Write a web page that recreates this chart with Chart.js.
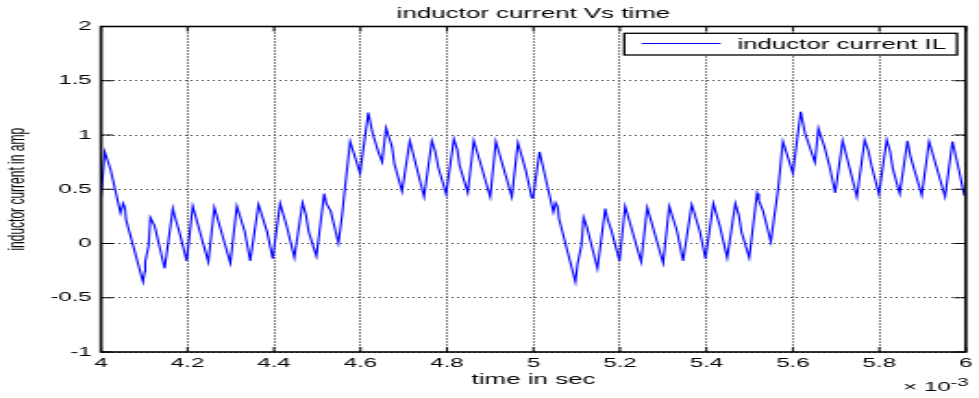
<!DOCTYPE html>
<html>
<head>
<meta charset="utf-8">
<title>inductor current Vs time</title>
<script src="https://cdn.jsdelivr.net/npm/chart.js@4"></script>
<style>
  html, body { margin: 0; padding: 0; background: #fff; overflow: hidden; }
  /* plot is drawn narrow and widened, like the exported figure */
  #wrap { width: 529px; height: 398px; transform: scaleX(1.85066); transform-origin: 0 0; }
</style>
</head>
<body>
<div id="wrap"><canvas id="ilChart" width="529" height="398"></canvas></div>
<script>
// time axis in ms (axis shows x 10^-3 s)
const timeMs = [
  4.000, 4.0085, 4.022, 4.045, 4.051, 4.055, 4.058, 4.097, 4.101, 4.102,
  4.110, 4.114, 4.124, 4.147, 4.166, 4.171, 4.181, 4.198, 4.212, 4.248,
  4.262, 4.299, 4.314, 4.332, 4.345, 4.364, 4.384, 4.397, 4.414, 4.430,
  4.447, 4.466, 4.474, 4.480, 4.498, 4.516, 4.521, 4.531, 4.549, 4.557,
  4.564, 4.576, 4.599, 4.618, 4.628, 4.641, 4.650, 4.659, 4.665, 4.673,
  4.678, 4.696, 4.714, 4.747, 4.765, 4.773, 4.780, 4.798, 4.816, 4.824,
  4.829, 4.848, 4.862, 4.900, 4.913, 4.950, 4.964, 4.982, 4.996, 4.999,
  5.014, 5.046, 5.051, 5.056, 5.059, 5.097, 5.102, 5.111, 5.116, 5.124,
  5.148, 5.166, 5.171, 5.180, 5.199, 5.212, 5.249, 5.263, 5.300, 5.314,
  5.332, 5.346, 5.366, 5.385, 5.398, 5.416, 5.431, 5.448, 5.467, 5.475,
  5.481, 5.499, 5.517, 5.521, 5.531, 5.549, 5.566, 5.577, 5.600, 5.618,
  5.628, 5.651, 5.659, 5.665, 5.673, 5.684, 5.698, 5.715, 5.748, 5.766,
  5.774, 5.782, 5.799, 5.817, 5.825, 5.831, 5.847, 5.865, 5.872, 5.898,
  5.915, 5.952, 5.969, 5.984, 5.996, 6.000
];

// inductor current IL (A)
const currentA = [
  0.43, 0.846, 0.68, 0.28, 0.37, 0.33, 0.215, -0.354, -0.26, -0.17,
  -0.016, 0.24, 0.16, -0.23, 0.323, 0.24, 0.107, -0.16, 0.344, -0.17,
  0.332, -0.18, 0.344, 0.113, -0.16, 0.36, 0.107, -0.14, 0.37, 0.15,
  -0.13, 0.375, 0.26, 0.11, -0.117, 0.46, 0.37, 0.298, 0.005, 0.246,
  0.51, 0.94, 0.646, 1.206, 1.016, 0.846, 0.75, 1.067, 0.99, 0.89,
  0.739, 0.48, 0.947, 0.43, 0.947, 0.846, 0.70, 0.455, 0.963, 0.86,
  0.72, 0.47, 0.947, 0.43, 0.94, 0.43, 0.93, 0.677, 0.42, 0.42,
  0.846, 0.29, 0.375, 0.338, 0.23, -0.354, -0.185, -0.016, 0.24, 0.144,
  -0.23, 0.323, 0.23, 0.123, -0.16, 0.344, -0.17, 0.332, -0.18, 0.344,
  0.113, -0.16, 0.36, 0.107, -0.14, 0.37, 0.16, -0.13, 0.37, 0.26,
  0.107, -0.13, 0.46, 0.40, 0.298, 0.015, 0.51, 0.94, 0.646, 1.215,
  1.016, 0.748, 1.062, 0.985, 0.89, 0.723, 0.467, 0.947, 0.43, 0.954,
  0.86, 0.714, 0.455, 0.954, 0.846, 0.69, 0.46, 0.947, 0.80, 0.446,
  0.94, 0.43, 0.94, 0.677, 0.446, 0.437
];

const xRange = [4, 6];
const yRange = [-1, 2];
const xStep = 0.2;
const yStep = 0.5;
const seriesLabel = 'inductor current IL';

const FONT = '"Liberation Sans", Arial, Helvetica, sans-serif';

// axes box with inward ticks on all four sides, drawn over the trace
const boxPlugin = {
  id: 'boxTicks',
  afterDraw(chart) {
    const { ctx, chartArea: a, scales: { x, y } } = chart;
    ctx.save();
    ctx.strokeStyle = '#000';
    ctx.lineWidth = 1;
    x.ticks.forEach(t => {
      const px = x.getPixelForValue(t.value);
      ctx.beginPath();
      ctx.moveTo(px, a.top); ctx.lineTo(px, a.top + 5);
      ctx.moveTo(px, a.bottom); ctx.lineTo(px, a.bottom - 5);
      ctx.stroke();
    });
    y.ticks.forEach(t => {
      const py = y.getPixelForValue(t.value);
      ctx.beginPath();
      ctx.moveTo(a.left, py); ctx.lineTo(a.left + 6.5, py);
      ctx.moveTo(a.right, py); ctx.lineTo(a.right - 6.5, py);
      ctx.stroke();
    });
    ctx.lineWidth = 1.6;
    ctx.strokeRect(a.left, a.top, a.right - a.left, a.bottom - a.top);

    // exponent note under the x axis
    ctx.fillStyle = '#000';
    ctx.textBaseline = 'alphabetic';
    ctx.textAlign = 'left';
    ctx.font = '13px ' + FONT;
    ctx.fillText('\u00d7 10', 488, 391);
    ctx.font = '11px ' + FONT;
    ctx.fillText('-3', 513.5, 385.5);
    ctx.restore();
  }
};

// boxed legend in the upper right of the axes
const legendPlugin = {
  id: 'boxLegend',
  afterDraw(chart) {
    const { ctx } = chart;
    const ds = chart.data.datasets[0];
    ctx.save();
    ctx.fillStyle = '#fff';
    ctx.fillRect(337.3, 33.3, 179.8, 21.7);
    ctx.strokeStyle = '#000';
    ctx.lineWidth = 1.3;
    ctx.strokeRect(337.3, 33.3, 179.8, 21.7);
    ctx.strokeStyle = ds.borderColor;
    ctx.lineWidth = 1;
    ctx.beginPath();
    ctx.moveTo(346.7, 43.5); ctx.lineTo(389.4, 43.5);
    ctx.stroke();
    ctx.fillStyle = '#000';
    ctx.font = '14px ' + FONT;
    ctx.textBaseline = 'alphabetic';
    ctx.fillText(ds.label, 398.4, 49);
    ctx.restore();
  }
};

const fmt = v => String(Number(v.toFixed(2)));

new Chart(document.getElementById('ilChart'), {
  type: 'line',
  data: {
    datasets: [{
      label: seriesLabel,
      data: timeMs.map((t, i) => ({ x: t, y: currentA[i] })),
      borderColor: '#0000ff',
      borderWidth: 1.1,
      pointRadius: 0,
      tension: 0,
      fill: false
    }]
  },
  options: {
    responsive: false,
    animation: false,
    devicePixelRatio: 1,
    layout: { padding: { left: 0, right: 6, top: 0, bottom: 0 } },
    plugins: {
      legend: { display: false },
      tooltip: { enabled: false },
      title: {
        display: true,
        fullSize: false,
        text: 'inductor current Vs time',
        color: '#000',
        font: { family: FONT, size: 14, weight: 'normal' },
        padding: { top: 5.5, bottom: 4.2 }
      }
    },
    scales: {
      x: {
        type: 'linear',
        min: xRange[0],
        max: xRange[1],
        afterFit: s => { s.height = 46; },
        ticks: {
          stepSize: xStep,
          color: '#000',
          padding: 3.5,
          maxRotation: 0,
          autoSkip: false,
          font: { family: FONT, size: 13 },
          callback: v => fmt(v)
        },
        grid: { color: '#000', lineWidth: 1, drawTicks: false },
        border: { display: false, dash: [1, 2] },
        title: {
          display: true,
          text: 'time in sec',
          color: '#000',
          font: { family: FONT, size: 14 },
          padding: { top: 0, bottom: 9.6 }
        }
      },
      y: {
        min: yRange[0],
        max: yRange[1],
        afterFit: s => { s.width = 54.6; },
        ticks: {
          stepSize: yStep,
          color: '#000',
          padding: 5,
          font: { family: FONT, size: 13 },
          callback: v => fmt(v)
        },
        grid: { color: '#444', lineWidth: 1, drawTicks: false },
        border: { display: false, dash: [1, 2] },
        title: {
          display: true,
          text: 'inductor current in amp',
          color: '#000',
          font: { family: FONT, size: 12 },
          padding: { top: 2.5, bottom: 0 }
        }
      }
    }
  },
  plugins: [boxPlugin, legendPlugin]
});
</script>
</body>
</html>
